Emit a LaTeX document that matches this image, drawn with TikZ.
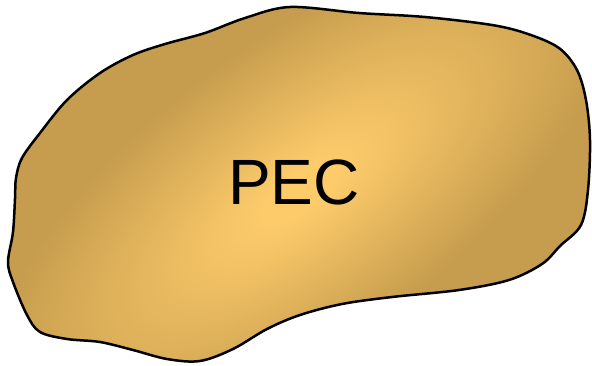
\documentclass[tikz,border=0pt]{standalone}
\usepackage{fontspec}
\setmainfont{Liberation Sans}
\definecolor{pecdark}{RGB}{198,157,78}
\definecolor{peclight}{RGB}{253,203,106}
\pgfdeclareradialshading{pecglow}{\pgfpoint{0bp}{0bp}}{%
  color(0bp)=(peclight); color(6bp)=(peclight); color(50bp)=(pecdark); color(100bp)=(pecdark)}
\tikzset{
  outline/.style={draw=black, line width=2.5pt, line join=round},
  label/.style={font=\fontsize{64}{64}\selectfont, text=black, inner sep=0pt}
}
\def\blobpath{plot[smooth cycle, tension=0.55] coordinates {
(290,7) (359,13) (425,17) (492,25) (528,34) (559,48) (577,70) (586,100) (590,140) (588,190) (581,225) (560,246) (542,264) (509,280) (459,290) (392,297) (342,304) (300,315) (267,329) (233,349) (200,361) (167,359) (133,350) (100,342) (67,339) (40,332) (27,315) (13,282) (8,262) (13,232) (15,199) (16,178) (22,158) (40,133) (67,100) (100,73) (133,55) (165,44) (205,33) (245,18)}}
\begin{document}
\begin{tikzpicture}[x=1pt,y=-1pt]
\useasboundingbox (0,0) rectangle (592,365);
\begin{scope}
  \clip \blobpath;
  \begin{scope}[transform canvas={shift={(300,192)}, rotate=37, xscale=7.4, yscale=3.0}]
    \pgftext{\pgfuseshading{pecglow}}
  \end{scope}
\end{scope}
\path[outline] \blobpath;
\node[label] (pec) at (294,182) {PEC};
\end{tikzpicture}
\end{document}
